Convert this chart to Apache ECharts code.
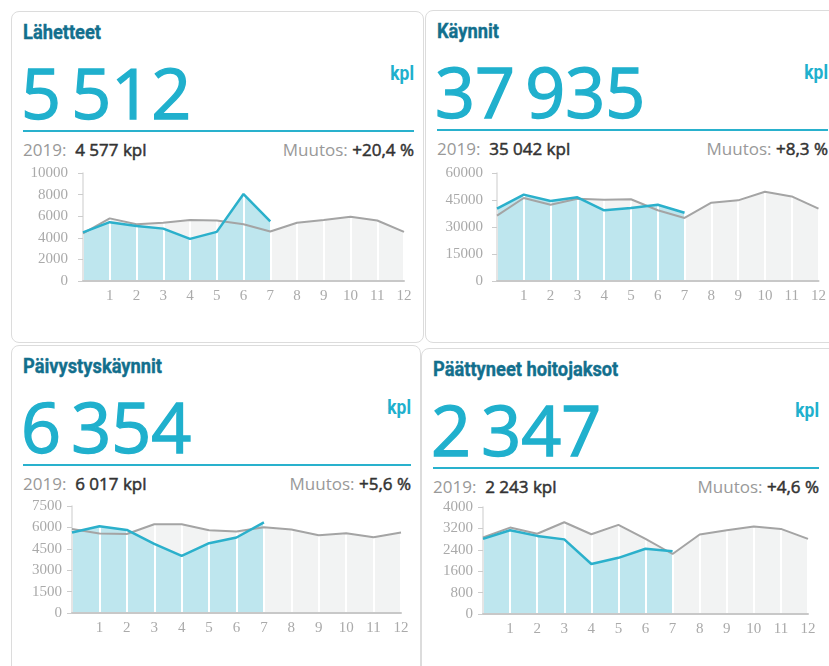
<!DOCTYPE html>
<html>
<head>
<meta charset="utf-8">
<script src="https://cdn.jsdelivr.net/npm/echarts@6/dist/echarts.min.js"></script>
<style>
    html, body {margin: 0; padding: 0; background: #fff; overflow: hidden;}
    body {width: 829px; height: 666px; position: relative;}
    .card {position: absolute; border: 1px solid #dcdcdc; border-radius: 8px; background: #fff; box-sizing: border-box;}
    .title {position: absolute; left: 11px; top: 10px; font: bold 21px/21px Roboto, sans-serif; color: #136f8d;
        transform: scaleX(0.87); transform-origin: left center; white-space: nowrap; -webkit-text-stroke: 0.4px #136f8d;}
    .big {position: absolute; left: 9px; top: 45px; font: 70px/70px "Open Sans", sans-serif; color: #20b0cd;
        white-space: nowrap; word-spacing: -8px; -webkit-text-stroke: 1.4px #20b0cd;}
    .unit {position: absolute; top: 51px; font: bold 20px/20px Roboto, sans-serif; color: #20b0cd;
        transform: scaleX(0.87); transform-origin: right center;}
    .rule {position: absolute; left: 11px; top: 118px; height: 2px; background: #29b1cd;}
    .stats {position: absolute; left: 11px; top: 129px; font: 17px/17px "Open Sans", sans-serif; color: #999; white-space: pre;}
    .stats b, .change b {font-weight: normal; color: #333; -webkit-text-stroke: 0.5px #333;}
    .change {position: absolute; top: 129px; font: 17px/17px "Open Sans", sans-serif; color: #999; white-space: pre; text-align: right;}
    #chart {position: absolute; left: 0; top: 0; width: 829px; height: 666px;}
</style>
</head>
<body>
<div id="chart"></div>
<script>
    // kuukaudet: indeksi 0 = vuoden alku, ilman tekstiä
    const months = ['', '1', '2', '3', '4', '5', '6', '7', '8', '9', '10', '11', '12'];
    const titles = ['Lähetteet', 'Käynnit', 'Päivystyskäynnit', 'Päättyneet hoitojaksot'];
    const totals2020 = [5512, 37935, 6354, 2347];
    const totals2019 = [4577, 35042, 6017, 2243];

    const lahetteet2020 = [4500, 5450, 5100, 4850, 3900, 4550, 8050, 5512];
    const lahetteet2019 = [4400, 5800, 5250, 5400, 5650, 5600, 5250, 4577, 5400, 5650, 5950, 5600, 4550];
    const kaynnit2020 = [40200, 48000, 44400, 46500, 39300, 40600, 42400, 37935];
    const kaynnit2019 = [36300, 46100, 42400, 45700, 45200, 45400, 39300, 35042, 43500, 44800, 49600, 47000, 40200];
    const paivystys2020 = [5640, 6080, 5820, 4850, 4010, 4890, 5290, 6354];
    const paivystys2019 = [5890, 5570, 5540, 6220, 6220, 5800, 5710, 6017, 5850, 5450, 5590, 5310, 5640];
    const hoitojaksot2020 = [2810, 3130, 2920, 2790, 1870, 2100, 2440, 2347];
    const hoitojaksot2019 = [2860, 3230, 3000, 3430, 2980, 3330, 2810, 2243, 2970, 3130, 3270, 3180, 2810];

    const yMax = [10000, 60000, 7500, 4000];
    const yStep = [2000, 15000, 1500, 800];

    const series2020 = [lahetteet2020, kaynnit2020, paivystys2020, hoitojaksot2020];
    const series2019 = [lahetteet2019, kaynnit2019, paivystys2019, hoitojaksot2019];

    // kortit ja kaavioalueet (px)
    const cardBoxes = [
        {left: 11, top: 11, width: 413, height: 332, inner: 391},
        {left: 425, top: 10, width: 420, height: 333, inner: 391},
        {left: 11, top: 345, width: 410, height: 340, inner: 388},
        {left: 421, top: 348, width: 420, height: 340, inner: 386}
    ];
    const grids = [
        {left: 83, top: 173, width: 321, height: 108, margin: 15},
        {left: 497, top: 173, width: 323, height: 108, margin: 14},
        {left: 72, top: 506, width: 329, height: 107, margin: 10},
        {left: 483, top: 507, width: 325, height: 107, margin: 10}
    ];

    const fmt = n => String(n).replace(/\B(?=(\d{3})+(?!\d))/g, ' ');
    const pct = (a, b) => {
        let v = (a / b - 1) * 100;
        return (v >= 0 ? '+' : '') + v.toFixed(1).replace('.', ',') + '\u00a0%';
    };

    cardBoxes.forEach((box, i) => {
        let card = document.createElement('div');
        card.className = 'card';
        card.style.cssText = `left:${box.left}px;top:${box.top}px;width:${box.width}px;height:${box.height}px`;
        let right = 11 + box.inner;
        card.innerHTML =
            `<div class="title">${titles[i]}</div>` +
            `<div class="big">${fmt(totals2020[i])}</div>` +
            `<div class="unit" style="left:${right - 40}px;width:40px;text-align:right">kpl</div>` +
            `<div class="rule" style="width:${box.inner}px"></div>` +
            `<div class="stats">2019:  <b>${fmt(totals2019[i]).replace(' ', '\u00a0')} kpl</b></div>` +
            `<div class="change" style="left:${right - 200}px;width:200px">Muutos: <b>${pct(totals2020[i], totals2019[i])}</b></div>`;
        document.body.insertBefore(card, document.getElementById('chart'));
    });

    const blue = '#2bb0cb';
    const blueFill = '#bee6ee';
    const grey = '#a4a4a4';
    const greyFill = '#f2f3f3';
    const labelFont = {fontFamily: 'Liberation Serif', fontSize: 15, color: '#aaaaaa'};

    let option = {
        animation: false,
        grid: grids.map(g => ({left: g.left, top: g.top, width: g.width, height: g.height})),
        xAxis: grids.map((g, i) => ({
            type: 'category', gridIndex: i, data: months, boundaryGap: false, z: 2,
            axisLine: {lineStyle: {color: '#c8c8c8', width: 2}},
            axisTick: {show: false},
            axisLabel: Object.assign({interval: 0, margin: 8}, labelFont),
            splitLine: {show: true, lineStyle: {color: '#ffffff', width: 2}}
        })),
        yAxis: grids.map((g, i) => ({
            type: 'value', gridIndex: i, min: 0, max: yMax[i], interval: yStep[i], z: 2,
            axisLine: {show: true, lineStyle: {color: '#dddddd', width: 1.5}},
            axisTick: {show: true, length: 5, lineStyle: {color: '#cccccc'}},
            axisLabel: Object.assign({margin: g.margin, formatter: v => String(v)}, labelFont),
            splitLine: {show: false}
        })),
        series: []
    };

    grids.forEach((g, i) => {
        option.series.push(
            {type: 'line', xAxisIndex: i, yAxisIndex: i, data: series2019[i], z: 1, showSymbol: false,
                lineStyle: {width: 0}, areaStyle: {color: greyFill, opacity: 1}},
            {type: 'line', xAxisIndex: i, yAxisIndex: i, data: series2020[i], z: 1, showSymbol: false,
                lineStyle: {width: 0}, areaStyle: {color: blueFill, opacity: 1}},
            {type: 'line', xAxisIndex: i, yAxisIndex: i, data: series2019[i], z: 3, showSymbol: false,
                lineStyle: {color: grey, width: 2}},
            {type: 'line', xAxisIndex: i, yAxisIndex: i, data: series2020[i], z: 3, showSymbol: false,
                lineStyle: {color: blue, width: 2.5}}
        );
    });

    let my_chart = echarts.init(document.getElementById('chart'));
    my_chart.setOption(option);
</script>
</body>
</html>
